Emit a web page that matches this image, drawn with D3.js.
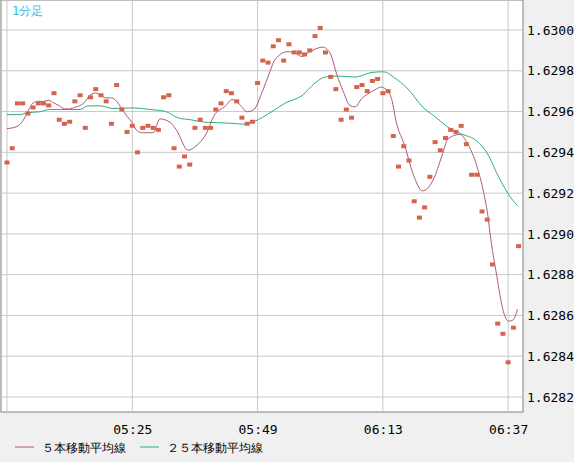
<!DOCTYPE html>
<html><head><meta charset="utf-8">
<script src="https://cdn.jsdelivr.net/npm/d3@7"></script>
<style>
body{margin:0;background:#f0f0f0;}
svg text{font-family:"DejaVu Sans Mono",monospace;}
</style></head>
<body><div id="chart"></div>
<script>
// 1-minute closes from 05:01 to 06:39
var closes = [1.62935,1.62942,1.62964,1.62964,1.62959,1.62962,1.62964,1.62964,1.62963,1.62969,
  1.62956,1.62954,1.62955,1.62965,1.62968,1.62952,1.62967,1.62971,1.62968,1.62965,
  1.62954,1.62973,1.62961,1.62950,1.62953,1.62940,1.62952,1.62953,1.62952,1.62951,
  1.62967,1.62968,1.62942,1.62933,1.62938,1.62934,1.62952,1.62956,1.62952,1.62952,
  1.62961,1.62964,1.62970,1.62969,1.62965,1.62957,1.62954,1.62955,1.62974,1.62985,
  1.62984,1.62992,1.62995,1.62985,1.62993,1.62989,1.62989,1.62988,1.62990,1.62997,
  1.63001,1.62989,1.62977,1.62971,1.62956,1.62961,1.62957,1.62972,1.62973,1.62970,
  1.62975,1.62976,1.62969,1.62970,1.62948,1.62933,1.62943,1.62936,1.62916,1.62908,
  1.62913,1.62928,1.62945,1.62941,1.62947,1.62951,1.62950,1.62953,1.62944,1.62929,
  1.62929,1.62911,1.62907,1.62885,1.62856,1.62851,1.62837,1.62854,1.62894];

// moving averages, read at minute offsets from 05:01
var ma5Min = [0,2,3,4,5,6,7,8,9,10,11,12,13,14,15,16,17,18,19,20,21,22,23,24,25,26,28,29.3,31.2,32.4,
  34.7,36.2,37.9,39.8,41.8,43.1,44.6,46,47.3,48.8,50.4,51.3,53.8,55.2,56.5,57.7,59,60.5,61.9,63.2,
  64.4,65.7,66.7,67.9,69.2,70.5,71.6,72.7,73.7,74.6,76.2,77.8,79.6,81.7,83.3,84.5,86.8,88.1,90,91.3,
  92.2,92.5,93.8,95.1,96.05,96.9,97.8];
var ma5 = [1.629516,1.629528,1.629553,1.629601,1.629642,1.629650,1.629650,1.629655,1.629642,1.629629,
  1.629613,1.629613,1.629621,1.629629,1.629650,1.629683,1.629691,1.629678,1.629667,1.629667,
  1.629650,1.629613,1.629577,1.629545,1.629504,1.629496,1.629496,1.629564,1.629548,1.629512,
  1.629410,1.629431,1.629480,1.629585,1.629626,1.629659,1.629634,1.629599,1.629610,1.629691,
  1.629798,1.629854,1.629894,1.629886,1.629870,1.629889,1.629906,1.629916,1.629886,1.629780,
  1.629699,1.629629,1.629623,1.629662,1.629688,1.629707,1.629720,1.629707,1.629659,1.629545,
  1.629431,1.629293,1.629211,1.629268,1.629382,1.629467,1.629488,1.629447,1.629333,1.629203,
  1.629073,1.629008,1.628797,1.628618,1.628572,1.628577,1.628631];
var ma25Min = [0,2.5,3.8,6.3,8.2,14,15.5,17.8,20.3,24.1,27.4,30.3,32.8,35.1,37.9,42.7,45.6,47.5,50.4,
  53.3,56.5,59,60.9,63.5,66.7,69.9,72.1,74.3,76.6,79.8,82.3,84.2,86.8,90,91.9,94.4,96.7,97.8];
var ma25 = [1.629585,1.629585,1.629594,1.629599,1.629610,1.629610,1.629628,1.629628,1.629615,1.629618,
  1.629610,1.629601,1.629569,1.629560,1.629548,1.629543,1.629538,1.629553,1.629594,1.629642,
  1.629678,1.629740,1.629769,1.629774,1.629769,1.629792,1.629795,1.629764,1.629716,1.629618,
  1.629569,1.629528,1.629493,1.629455,1.629399,1.629268,1.629171,1.629138];

var priceTicks = [1.6282,1.6284,1.6286,1.6288,1.6290,1.6292,1.6294,1.6296,1.6298,1.6300];
var timeTicks = [0,24,48,72,96];
var timeLabels = ["05:01","05:25","05:49","06:13","06:37"];
var legendNames = ["５本移動平均線","２５本移動平均線"];
var legendColors = ["#b0587c","#2cb07a"];

var width = 574, height = 462;
var svg = d3.select("#chart").append("svg").attr("width", width).attr("height", height);

svg.append("rect").attr("width", width).attr("height", height).attr("fill", "#f0f0f0");
svg.append("rect").attr("x", 1).attr("y", 0).attr("width", 522).attr("height", 412)
  .attr("fill", "#fff").attr("stroke", "#808080");

var x = d3.scaleLinear().domain([0, 98]).range([7, 518.6]);
var y = d3.scaleLinear().domain([1.6282, 1.6300]).range([397, 30]);

var grid = svg.append("g").attr("stroke", "#c8c8c8");
timeTicks.forEach(function(t){
  grid.append("line").attr("x1", x(t)).attr("x2", x(t)).attr("y1", 1).attr("y2", 411);
});
priceTicks.forEach(function(p){
  grid.append("line").attr("x1", 2).attr("x2", 522).attr("y1", y(p)).attr("y2", y(p));
});

var yAxis = d3.axisRight(y).tickValues(priceTicks).tickFormat(d3.format(".4f")).tickSize(0).tickPadding(4);
svg.append("g").attr("transform", "translate(523,0)").call(yAxis)
  .call(function(g){ g.select(".domain").remove(); })
  .selectAll("text").attr("font-size", 13).attr("fill", "#000");

var xAxis = d3.axisBottom(x).tickValues(timeTicks.slice(1))
  .tickFormat(function(d){ return timeLabels[timeTicks.indexOf(d)]; }).tickSize(0).tickPadding(12);
svg.append("g").attr("transform", "translate(0,413)").call(xAxis)
  .call(function(g){ g.select(".domain").remove(); })
  .selectAll("text").attr("font-size", 13).attr("fill", "#000");

var line = d3.line().x(function(d){ return x(d[0]); }).y(function(d){ return y(d[1]); })
  .curve(d3.curveMonotoneX);
svg.append("path").attr("d", line(d3.zip(ma25Min, ma25)))
  .attr("fill", "none").attr("stroke", legendColors[1]).attr("stroke-width", 1);
svg.append("path").attr("d", line(d3.zip(ma5Min, ma5)))
  .attr("fill", "none").attr("stroke", legendColors[0]).attr("stroke-width", 1);

svg.append("g").selectAll("rect").data(closes).enter().append("rect")
  .attr("x", function(d, i){ return x(i) - 2.5; })
  .attr("y", function(d){ return y(d) - 2; })
  .attr("width", 5).attr("height", 4).attr("fill", "#d6644c");

svg.append("text").attr("x", 12).attr("y", 15).attr("font-size", 12)
  .attr("fill", "#40b8e8").text("1分足");

var legendX = [15, 140];
legendNames.forEach(function(n, i){
  svg.append("line").attr("x1", legendX[i]).attr("x2", legendX[i] + 19)
    .attr("y1", 447).attr("y2", 447).attr("stroke", legendColors[i]);
  svg.append("text").attr("x", legendX[i] + 27).attr("y", 452).attr("font-size", 12)
    .attr("font-family", "Noto Sans CJK JP").attr("fill", "#000").text(n);
});
</script></body></html>
